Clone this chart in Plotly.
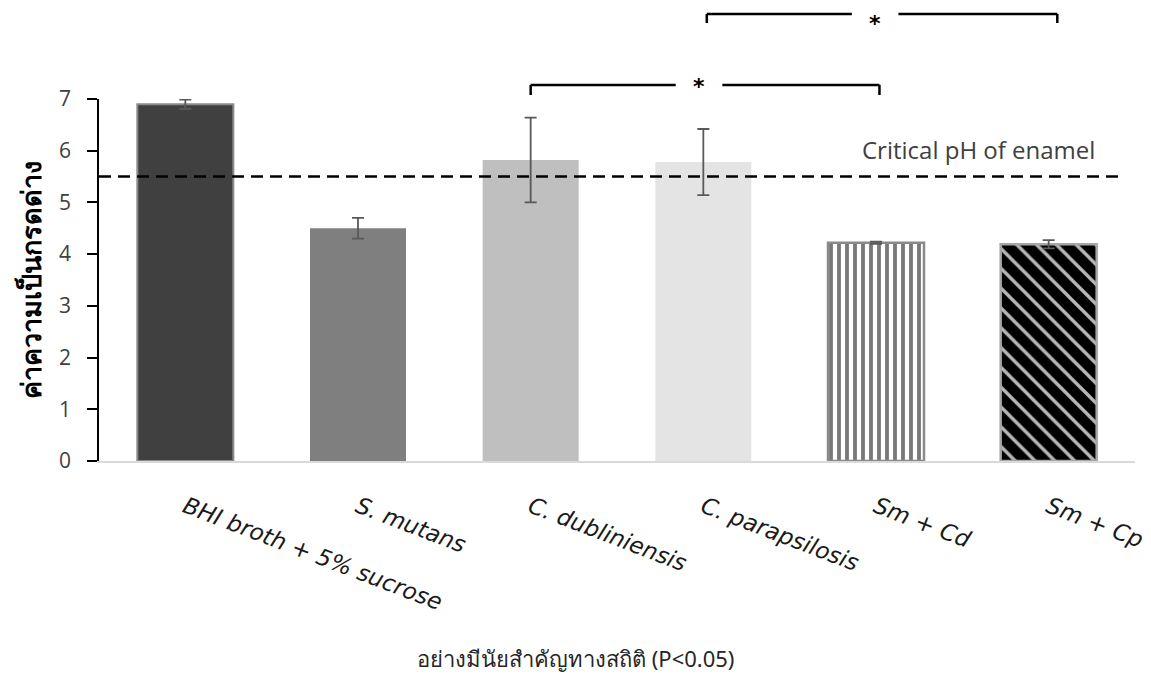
import plotly.graph_objects as go

categories = ["BHI broth + 5% sucrose", "S. mutans", "C. dubliniensis",
              "C. parapsilosis", "Sm + Cd", "Sm + Cp"]
ph_values = [6.90, 4.50, 5.82, 5.78, 4.22, 4.19]
ph_errors = [0.09, 0.20, 0.82, 0.64, 0.02, 0.08]
critical_ph = 5.5
y_ticks = [0, 1, 2, 3, 4, 5, 6, 7]

fill_colors = ["#404040", "#7f7f7f", "#bfbfbf", "#e4e4e4", "#ffffff", "#000000"]
line_colors = ["#8a8a8a", "#7f7f7f", "#bfbfbf", "#e4e4e4", "#8a8a8a", "#a6a6a6"]
line_widths = [2, 0, 0, 0, 2.5, 2.5]
pattern_shapes = ["", "", "", "", "|", "\\"]
pattern_sizes = [8, 8, 8, 8, 8, 14]
pattern_solid = [0.4, 0.4, 0.4, 0.4, 0.48, 0.24]

fig = go.Figure()
fig.add_trace(go.Bar(
    x=categories, y=ph_values, width=0.556,
    marker=dict(color=fill_colors,
                line=dict(color=line_colors, width=line_widths),
                pattern=dict(shape=pattern_shapes,
                             size=pattern_sizes, fgopacity=0.72,
                             solidity=pattern_solid, fillmode="overlay")),
    error_y=dict(type="data", array=ph_errors, color="#595959",
                 thickness=1.8, width=6),
    showlegend=False,
))

# critical pH dashed line
fig.add_shape(type="line", xref="paper", yref="y", x0=0, x1=0.988,
              y0=critical_ph, y1=critical_ph,
              line=dict(color="black", width=2.5, dash="12px,7px"))
fig.add_annotation(text="Critical pH of enamel", xref="x", yref="y",
                   x=4.596, y=6.03, showarrow=False,
                   font=dict(family="Open Sans, Noto Sans, sans-serif",
                             size=24, color="#404040"))

# significance brackets
brackets = [
    # (left idx, right idx, gap left, gap right, y line, y foot, y star top) in paper
    (2.0, 4.02, 2.84, 3.11, 1.039, 1.011, 1.075),
    (3.02, 5.05, 3.86, 4.13, 1.235, 1.210, 1.2486),
]
for xl, xr, gl, gr, yt, yb, ys in brackets:
    for seg in [(xl, gl), (gr, xr)]:
        fig.add_shape(type="line", xref="x", yref="paper",
                      x0=seg[0], x1=seg[1], y0=yt, y1=yt,
                      line=dict(color="black", width=2.5))
    fig.add_shape(type="line", xref="x", yref="paper", x0=xl, x1=xl,
                  y0=yt, y1=yb, line=dict(color="black", width=2.5))
    fig.add_shape(type="line", xref="x", yref="paper", x0=xr, x1=xr,
                  y0=yt, y1=yb, line=dict(color="black", width=2.5))
    fig.add_annotation(text="<b>*</b>", xref="x", yref="paper",
                       x=(gl + gr) / 2, y=ys, yanchor="top", showarrow=False,
                       font=dict(size=22, color="black",
                                 family="DejaVu Sans, sans-serif"))

fig.add_annotation(text="อย่างมีนัยสำคัญทางสถิติ (P<0.05)", xref="paper",
                   yref="paper", x=0.4595, y=-0.59, showarrow=False,
                   font=dict(size=22, color="#262626",
                             family="Noto Sans, DejaVu Sans, sans-serif"))

fig.update_layout(
    width=1151, height=679,
    margin=dict(l=91, r=24, t=91, b=226),
    paper_bgcolor="white", plot_bgcolor="white",
    bargap=0.444,
    xaxis=dict(showline=True, linecolor="#d9d9d9", linewidth=1.5,
               ticks="", showgrid=False, tickangle=21,
               ticklabelstandoff=22,
               tickfont=dict(family="DejaVu Sans, sans-serif", size=23,
                             color="#1a1a1a", style="italic")),
    yaxis=dict(range=[0, 7], tickvals=y_ticks, showgrid=False, zeroline=False,
               showline=True, linecolor="black", linewidth=1.5,
               ticks="outside", ticklen=10, tickcolor="black", tickwidth=1.5,
               ticklabelstandoff=12,
               tickfont=dict(family="Open Sans, Noto Sans, sans-serif",
                             size=21, color="#404040"),
               title=dict(text="<b>ค่าความเป็นกรดด่าง</b>", standoff=10,
                          font=dict(size=27, color="black",
                                    family="Noto Sans, DejaVu Sans, sans-serif"))),
)

fig.write_html("out.html")
